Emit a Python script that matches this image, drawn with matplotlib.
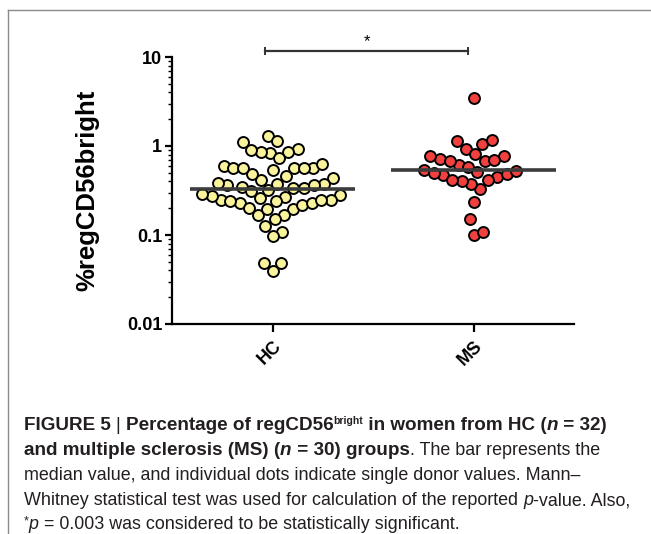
import numpy as np
import matplotlib
matplotlib.use('Agg')
import matplotlib.pyplot as plt
from matplotlib.ticker import FixedLocator, LogLocator, NullFormatter

# ---------------- data ----------------
groups = ['HC', 'MS']
hc_values = [1.31, 1.12, 1.14,
             0.93, 0.86, 0.83, 0.73, 0.85, 0.90,
             0.60, 0.56, 0.57, 0.54, 0.46, 0.415, 0.44, 0.49, 0.56, 0.56, 0.56, 0.63,
             0.365, 0.37, 0.35, 0.335, 0.32, 0.28, 0.27, 0.25, 0.277, 0.287, 0.312,
             0.335, 0.36, 0.37, 0.385,
             0.258, 0.25, 0.24, 0.227, 0.20, 0.195, 0.168, 0.168, 0.195, 0.218,
             0.227, 0.24, 0.245,
             0.15, 0.107, 0.098, 0.126, 0.049, 0.039, 0.049]
ms_values = [3.44,
             1.14, 0.92, 1.05, 1.17,
             0.77, 0.71, 0.67, 0.61, 0.585, 0.68, 0.70, 0.77, 0.81,
             0.54, 0.51, 0.47, 0.45, 0.42, 0.326, 0.37, 0.40, 0.42, 0.48, 0.50, 0.53,
             0.237, 0.15, 0.10, 0.109]
medians = [0.33, 0.54]
ytick_values = [0.01, 0.1, 1, 10]
ytick_labels = ['0.01', '0.1', '1', '10']
y_label = '%regCD56bright'
sig_label = '*'

# ---------------- styling ----------------
fill_colors = ['#f9f49b', '#f2403f']
W, H = 651, 534
fig = plt.figure(figsize=(W / 100, H / 100), dpi=100)
ax = fig.add_axes([172 / W, 1 - 324 / H, 402 / W, 267 / H])
ax.set_yscale('log')
ax.set_ylim(0.01, 10)
ax.set_xlim(-0.5, 1.5)

for s in ['top', 'right']:
    ax.spines[s].set_visible(False)
for s in ['left', 'bottom']:
    ax.spines[s].set_linewidth(1.6)

ax.yaxis.set_major_locator(FixedLocator(ytick_values))
ax.set_yticklabels(ytick_labels, fontsize=13, fontweight='bold', family='Liberation Sans')
ax.yaxis.set_minor_locator(LogLocator(base=10, subs=np.arange(2, 10)))
ax.yaxis.set_minor_formatter(NullFormatter())
ax.tick_params(axis='y', which='major', length=5, width=1.6, direction='out', pad=2)
ax.tick_params(axis='y', which='minor', length=3, width=1.0, direction='out')
ax.set_xticks(range(len(groups)))
ax.set_xticklabels(groups, rotation=45, ha='right', rotation_mode='anchor',
                   fontsize=13, fontweight='bold', family='Liberation Sans')
ax.tick_params(axis='x', length=6, width=1.6, direction='out', pad=4)

ax.set_ylabel(y_label, fontsize=18.5, fontweight='bold', family='Liberation Sans')
ax.yaxis.set_label_coords(-0.18, 0.5)

fig.canvas.draw()
ppu = ax.bbox.width / (ax.get_xlim()[1] - ax.get_xlim()[0])  # pixels per x unit


def swarm_offsets(vals, dx0, dy0):
    """Beeswarm layout with an elliptical footprint (wider rows, like GraphPad)."""
    ys = ax.transData.transform(np.column_stack([np.zeros(len(vals)), vals]))[:, 1]
    ys = ys * (dx0 / dy0)
    d = dx0
    order = np.argsort(ys)
    placed = []
    xs = np.zeros(len(vals))
    for i in order:
        y = ys[i]
        cands = [0.0]
        for px, py in placed:
            dy = y - py
            if abs(dy) < d:
                dx = np.sqrt(d * d - dy * dy)
                cands += [px + dx, px - dx]
        cands.sort(key=abs)
        for c in cands:
            if all((c - px) ** 2 + (y - py) ** 2 >= d * d - 1e-6 for px, py in placed):
                xs[i] = c
                break
        placed.append((xs[i], y))
    return xs / ppu


for gi, vals in enumerate([hc_values, ms_values]):
    off = swarm_offsets(vals, 9.5, 17.0)
    ax.scatter(gi + off, vals, s=62, facecolor=fill_colors[gi], edgecolor='black',
               linewidths=1.4, zorder=2, clip_on=False)
    ax.hlines(medians[gi], gi - 0.41, gi + 0.41, color='#3b3b3b', lw=2.6, zorder=3)

# significance bar
bar_y = 11.7
ax.plot([-0.035, 0.975], [bar_y, bar_y], color='#333333', lw=1.6, clip_on=False,
        marker='|', markersize=6, markeredgewidth=1.4)
ax.text(0.47, 15.0, sig_label, ha='center', va='center', fontsize=12,
        family='Liberation Sans', clip_on=False)

# ---------------- frame lines of the figure panel ----------------
fig.add_artist(plt.Line2D([8 / W, 1], [1 - 10 / H, 1 - 10 / H], color='#8a8a8a', lw=1.0))
fig.add_artist(plt.Line2D([8 / W, 8 / W], [0, 1 - 10 / H], color='#8a8a8a', lw=1.0))

# ---------------- caption ----------------
cap_color = '#231f20'
fb = 13.6   # bold size
fr = 12.9   # regular size
lines = [
    [('FIGURE 5', 'bold', 'normal', fb, 0), (' | ', 'light', 'normal', fr, 0),
     ('Percentage of regCD56', 'bold', 'normal', fb, 0), ('bright', 'bold', 'normal', 7.5, 6),
     (' in women from HC (', 'bold', 'normal', fb, 0), ('n', 'bold', 'italic', fb, 0),
     (' = 32)', 'bold', 'normal', fb, 0)],
    [('and multiple sclerosis (MS) (', 'bold', 'normal', fb, 0), ('n', 'bold', 'italic', fb, 0),
     (' = 30) groups', 'bold', 'normal', fb, 0), ('. The bar represents the', 'normal', 'normal', fr, 0)],
    [('median value, and individual dots indicate single donor values. Mann\u2013', 'normal', 'normal', fr, 0)],
    [('Whitney statistical test was used for calculation of the reported ', 'normal', 'normal', fr, 0),
     ('p', 'normal', 'italic', fr, 0), ('-value. Also,', 'normal', 'normal', fr, 0)],
    [('*', 'normal', 'normal', 9, 5), ('p', 'normal', 'italic', fr, 0),
     (' = 0.003 was considered to be statistically significant.', 'normal', 'normal', fr, 0)],
]
baselines = [430, 455, 480, 505, 529]
renderer = fig.canvas.get_renderer()
for segs, by in zip(lines, baselines):
    x = 24.0
    for txt, wt, st, size, rise in segs:
        t = fig.text(x / W, 1 - (by - rise) / H, txt, fontsize=size, fontweight=wt,
                     fontstyle=st, family='Liberation Sans', color=cap_color,
                     ha='left', va='baseline')
        bb = t.get_window_extent(renderer)
        x += bb.width

fig.savefig('out.png', dpi=100)
